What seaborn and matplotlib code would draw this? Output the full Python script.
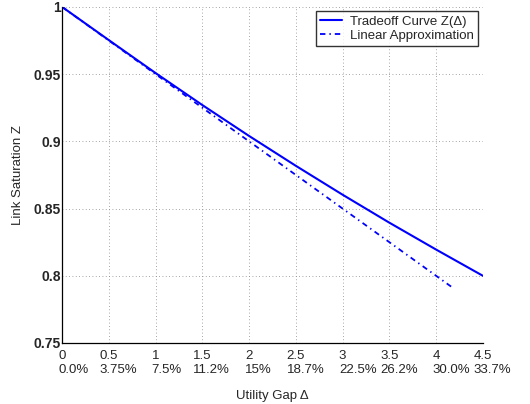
import numpy as np
import pandas as pd
import matplotlib
matplotlib.use("Agg")
import matplotlib.pyplot as plt
import seaborn as sns

# Tradeoff curve Z(Delta)
delta = [0.0, 0.5, 1.0, 1.5, 2.0, 2.5, 3.0, 3.5, 4.0, 4.5]
z_curve = [1.0, 0.9753, 0.9508, 0.9270, 0.9040, 0.8818, 0.8603, 0.8395, 0.8195, 0.800]

# Linear approximation (end points)
lin_delta = [0.0, 4.18]
lin_z = [1.0, 0.791]

x_ticks = [0, 0.5, 1, 1.5, 2, 2.5, 3, 3.5, 4, 4.5]
x_top_labels = ["0", "0.5", "1", "1.5", "2", "2.5", "3", "3.5", "4", "4.5"]
x_pct_labels = ["0.0%", "3.75%", "7.5%", "11.2%", "15%", "18.7%",
                "22.5%", "26.2%", "30.0%", "33.7%"]
y_ticks = [0.75, 0.8, 0.85, 0.9, 0.95, 1.0]
y_labels = ["0.75", "0.8", "0.85", "0.9", "0.95", "1"]

sns.set_style("white")
plt.rcParams["font.family"] = ["Liberation Sans", "DejaVu Sans"]
plt.rcParams["xtick.direction"] = "in"
plt.rcParams["ytick.direction"] = "in"

fig = plt.figure(figsize=(5.3, 4.04), dpi=100)
ax = fig.add_axes([0.117, 0.151, 0.794, 0.832])

curve_df = pd.DataFrame({"delta": delta, "z": z_curve})
lin_df = pd.DataFrame({"delta": lin_delta, "z": lin_z})

sns.lineplot(data=curve_df, x="delta", y="z", ax=ax, color="blue",
             linewidth=1.5, label="Tradeoff Curve Z(\u0394)")
sns.lineplot(data=lin_df, x="delta", y="z", ax=ax, color="blue",
             linewidth=1.3, linestyle=(0, (3, 2.2, 0.8, 2.2)),
             label="Linear Approximation")

ax.set_xlim(0, 4.5)
ax.set_ylim(0.75, 1.0)
ax.set_xticks(x_ticks)
ax.set_xticklabels(x_top_labels, fontsize=9.5)
ax.set_yticks(y_ticks)
ax.set_yticklabels(y_labels, fontsize=10, fontweight="bold")
ax.tick_params(axis="both", length=5, width=0.8, color="black")
ax.tick_params(axis="x", pad=5)
ax.tick_params(axis="y", pad=1)

ax.grid(True, linestyle=(0, (1, 3)), color="#888888", linewidth=0.6)
for s in ["top", "right"]:
    ax.spines[s].set_visible(False)
for s in ["left", "bottom"]:
    ax.spines[s].set_color("black")
    ax.spines[s].set_linewidth(0.9)

ax.set_xlabel("Utility Gap \u0394", fontsize=9.5, labelpad=20)
ax.set_ylabel("Link Saturation Z", fontsize=9.5, labelpad=7)

leg = ax.legend(loc="upper right", fontsize=9.5, frameon=True, fancybox=False,
                borderaxespad=0.35, handlelength=1.7, handletextpad=0.6,
                borderpad=0.3, labelspacing=0.15, bbox_to_anchor=(1.0, 1.0))
leg.get_frame().set_edgecolor("black")
leg.get_frame().set_linewidth(1.0)

# second row of x tick labels, left aligned under the first row
fig.canvas.draw()
for lab, pct in zip(ax.get_xticklabels(), x_pct_labels):
    bb = lab.get_window_extent()
    fig.text(bb.x0 / fig.bbox.width, (bb.y0 - 2) / fig.bbox.height, pct,
             ha="left", va="top", fontsize=9.5)

fig.savefig("out.png", dpi=100)
